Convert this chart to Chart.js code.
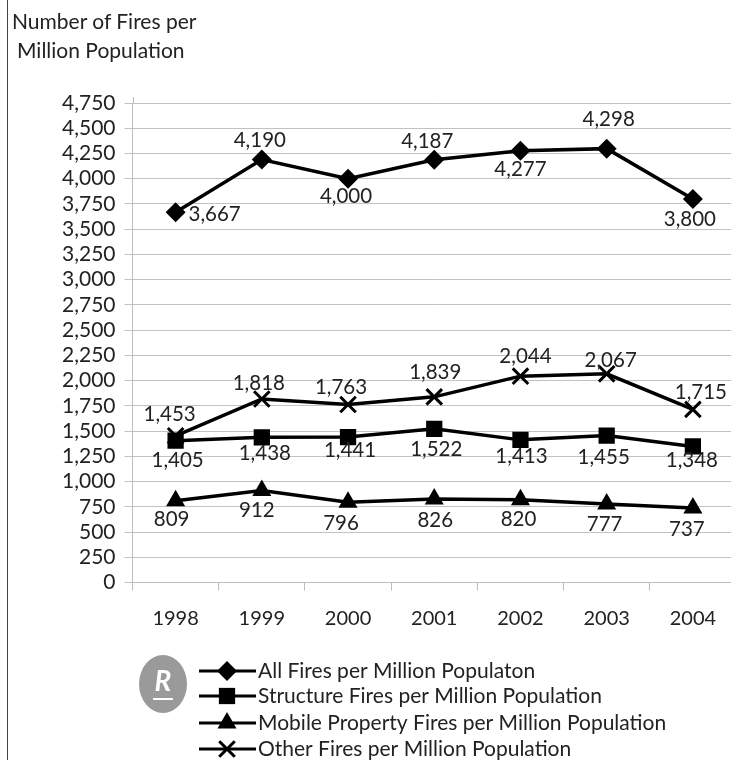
<!DOCTYPE html>
<html>
<head>
<meta charset="utf-8">
<script src="https://cdn.jsdelivr.net/npm/chart.js@4"></script>
<style>
  html, body { margin: 0; padding: 0; background: #fff; overflow: hidden; width: 731px; height: 760px; }
  #wrap { position: relative; width: 731px; height: 760px; overflow: hidden; }
  #frame { position: absolute; left: 7px; top: 0; width: 1px; height: 760px; background: #444; }
  .heading { position: absolute; font: 21px Lato, sans-serif; color: #222; white-space: nowrap; }
  canvas { position: absolute; left: 0; top: 0; }
</style>
</head>
<body>
<div id="wrap">
  <canvas id="chart" width="760" height="760"></canvas>
  <div id="frame"></div>
  <div class="heading" style="left:12px;top:8px">Number of Fires per</div>
  <div class="heading" style="left:17px;top:37px">Million Population</div>
</div>
<script>
const years = ['1998', '1999', '2000', '2001', '2002', '2003', '2004'];
const allFires = [3667, 4190, 4000, 4187, 4277, 4298, 3800];
const structureFires = [1405, 1438, 1441, 1522, 1413, 1455, 1348];
const mobileFires = [809, 912, 796, 826, 820, 777, 737];
const otherFires = [1453, 1818, 1763, 1839, 2044, 2067, 1715];

const seriesNames = [
  'All Fires per Million Populaton',
  'Structure Fires per Million Population',
  'Mobile Property Fires per Million Population',
  'Other Fires per Million Population'
];

// Hand-placed value label nudges, in pixels from each point: [dx, dy]
const allNudge = [[39, 2], [-2, -19], [-2, 18], [-7, -18], [0, 19], [2, -29], [-3, 20]];
const structureNudge = [[2, 20], [3, 16], [2, 13], [2, 21], [1, 17], [-3, 22], [-1, 14]];
const mobileNudge = [[-4, 19], [-5, 20], [-7, 21], [1, 21], [-2, 20], [-2, 20], [-6, 21]];
const otherNudge = [[-6, -21], [-3, -16], [-7, -17], [1, -24], [5, -20], [4, -13], [8, -17]];

const numberFormat = v => v.toLocaleString('en-US');
const INK = '#000';
const FONT = 'Lato, sans-serif';

function lineSet(label, data, pointStyle, radius, nudge) {
  return {
    label, data, nudge, pointStyle,
    borderColor: INK,
    backgroundColor: INK,
    borderWidth: 3.5,
    tension: 0,
    fill: false,
    pointRadius: radius,
    pointHoverRadius: radius,
    pointBackgroundColor: INK,
    pointBorderColor: INK,
    pointBorderWidth: pointStyle === 'crossRot' ? 3 : 0
  };
}

// Writes each point's value next to it, using the dataset's nudge table
const valueLabels = {
  id: 'valueLabels',
  afterDatasetsDraw(chart) {
    const ctx = chart.ctx;
    ctx.save();
    ctx.font = '20.5px ' + FONT;
    ctx.fillStyle = '#222';
    ctx.textAlign = 'center';
    ctx.textBaseline = 'middle';
    chart.data.datasets.forEach((ds, i) => {
      chart.getDatasetMeta(i).data.forEach((pt, j) => {
        ctx.fillText(numberFormat(ds.data[j]), pt.x + ds.nudge[j][0], pt.y + ds.nudge[j][1]);
      });
    });
    ctx.restore();
  }
};

// Carries the vertical axis line a little past its top gridline
const axisCap = {
  id: 'axisCap',
  beforeDatasetsDraw(chart) {
    const { left, top } = chart.chartArea;
    const ctx = chart.ctx;
    ctx.save();
    ctx.strokeStyle = '#bdbdbd';
    ctx.lineWidth = 1;
    ctx.beginPath();
    ctx.moveTo(Math.round(left) + 0.5, top - 6);
    ctx.lineTo(Math.round(left) + 0.5, top);
    ctx.stroke();
    ctx.restore();
  }
};

// Stacked key below the plot with the round R badge at its left
const stackedKey = {
  id: 'stackedKey',
  afterDraw(chart) {
    const ctx = chart.ctx;
    const rows = [671, 696, 723, 749];
    ctx.save();
    ctx.beginPath();
    ctx.ellipse(163, 684, 24, 29, 0, 0, Math.PI * 2);
    ctx.fillStyle = '#9a9a9a';
    ctx.fill();
    ctx.fillStyle = '#fff';
    ctx.font = 'italic bold 28px Lato, sans-serif';
    ctx.textAlign = 'center';
    ctx.textBaseline = 'middle';
    ctx.fillText('R', 163, 682);
    ctx.fillRect(153, 698, 20, 2);

    chart.data.datasets.forEach((ds, i) => {
      const y = rows[i];
      ctx.strokeStyle = INK;
      ctx.lineWidth = 3;
      ctx.beginPath();
      ctx.moveTo(199, y);
      ctx.lineTo(256, y);
      ctx.stroke();
      ctx.fillStyle = INK;
      Chart.helpers.drawPoint(ctx, {
        pointStyle: ds.pointStyle,
        radius: ds.pointRadius,
        borderWidth: ds.pointBorderWidth,
        rotation: 0
      }, 227, y);
      ctx.fillStyle = '#222';
      ctx.font = '21px ' + FONT;
      ctx.textAlign = 'left';
      ctx.textBaseline = 'middle';
      ctx.fillText(ds.label, 258, y);
    });
    ctx.restore();
  }
};

new Chart(document.getElementById('chart'), {
  type: 'line',
  data: {
    labels: years,
    datasets: [
      lineSet(seriesNames[0], allFires, 'rectRot', 10, allNudge),
      lineSet(seriesNames[1], structureFires, 'rect', 11.5, structureNudge),
      lineSet(seriesNames[2], mobileFires, 'triangle', 11, mobileNudge),
      lineSet(seriesNames[3], otherFires, 'crossRot', 11, otherNudge)
    ]
  },
  options: {
    responsive: false,
    animation: false,
    layout: { padding: { top: 103, right: 24, bottom: 117.5, left: 0 } },
    plugins: { legend: { display: false }, tooltip: { enabled: false }, title: { display: false } },
    scales: {
      x: {
        offset: true,
        afterFit(scale) { scale.height = 60; },
        grid: { color: '#bdbdbd', lineWidth: 1, drawOnChartArea: false, tickLength: 8, offset: true },
        border: { color: '#bdbdbd' },
        ticks: { color: '#222', font: { family: FONT, size: 20 }, padding: 16, maxRotation: 0 }
      },
      y: {
        min: 0,
        max: 4750,
        afterFit(scale) { scale.width = 132.5; },
        grid: { color: '#c2c2c2', lineWidth: 1, tickLength: 8 },
        border: { color: '#bdbdbd' },
        ticks: {
          stepSize: 250,
          autoSkip: false,
          color: '#222',
          padding: 9,
          font: { family: FONT, size: 21 },
          callback: numberFormat
        }
      }
    }
  },
  plugins: [axisCap, valueLabels, stackedKey]
});
</script>
</body>
</html>
